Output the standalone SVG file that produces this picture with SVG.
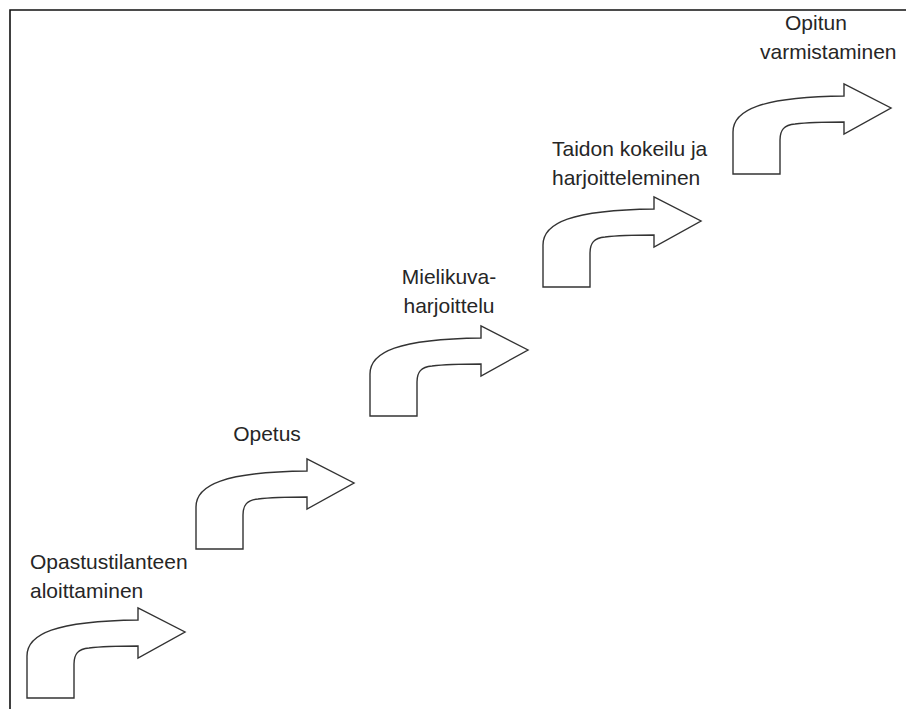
<svg xmlns="http://www.w3.org/2000/svg" xmlns:xlink="http://www.w3.org/1999/xlink" width="906" height="709" viewBox="0 0 906 709">
<style>
.arrow{fill:#fff;stroke:#333;stroke-width:1.4;stroke-linejoin:miter}
.lbl{font-family:"Liberation Sans",Arial,sans-serif;font-size:21px;fill:#262626}
.frame{fill:none;stroke:#111;stroke-width:1.6}
</style>
<defs>
<path id="bent" d="M0,0 V-42 C0,-64 28,-77 111,-78 V-90 L158,-66 L111,-40 V-52 C85,-52 70,-51 62,-50 C51,-49 47,-44 47,-34 V0 Z"/>
</defs>
<rect x="0" y="0" width="906" height="709" fill="#fff"/>
<path class="frame" d="M10,709 V10 H906"/>
<g id="step1">
<use xlink:href="#bent" class="arrow" transform="translate(27,698)"/>
<text class="lbl" x="30" y="569">Opastustilanteen</text>
<text class="lbl" x="30" y="598">aloittaminen</text>
</g>
<g id="step2">
<use xlink:href="#bent" class="arrow" transform="translate(196,549)"/>
<text class="lbl" x="267" y="441" text-anchor="middle">Opetus</text>
</g>
<g id="step3">
<use xlink:href="#bent" class="arrow" transform="translate(370,416)"/>
<text class="lbl" x="449" y="284" text-anchor="middle">Mielikuva-</text>
<text class="lbl" x="449" y="313" text-anchor="middle">harjoittelu</text>
</g>
<g id="step4">
<use xlink:href="#bent" class="arrow" transform="translate(543,287)"/>
<text class="lbl" x="552" y="156">Taidon kokeilu ja</text>
<text class="lbl" x="552" y="185">harjoitteleminen</text>
</g>
<g id="step5">
<use xlink:href="#bent" class="arrow" transform="translate(733,174)"/>
<text class="lbl" x="785" y="30">Opitun</text>
<text class="lbl" x="760" y="59">varmistaminen</text>
</g>
<g id="connectors"></g>
</svg>
